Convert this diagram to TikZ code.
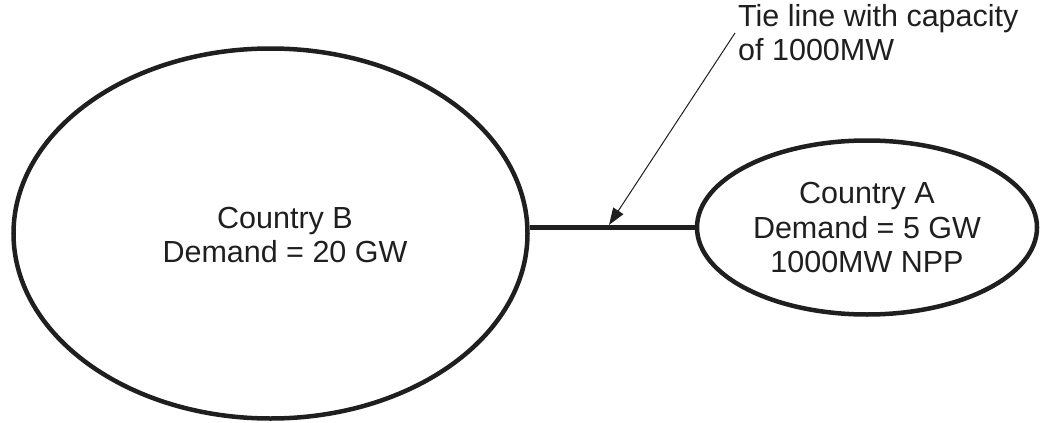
\documentclass[tikz,border=0pt]{standalone}
\usepackage{fontspec}
\setmainfont{Liberation Sans}
\usetikzlibrary{shapes.geometric,arrows.meta}
\begin{document}
\begin{tikzpicture}[x=1pt,y=-1pt,
  country/.style={ellipse,draw=black!88,line width=4.5pt,inner sep=0pt},
  lbl/.style={align=center,font=\fontsize{30.5}{34.5}\selectfont,text=black!88,inner sep=0pt},
  tie/.style={line width=4.5pt,draw=black!88},
  pointer/.style={line width=1pt,draw=black!88,-{Triangle[length=17pt,width=12pt]}}]
\useasboundingbox (0,0) rectangle (1042,423);
\node[country,minimum width=514pt,minimum height=370pt] (B) at (270.5,233.5) {};
\node[lbl] (Btext) at (285,235) {Country B\\Demand = 20 GW};
\node[country,minimum width=340pt,minimum height=174pt,lbl,line width=4.5pt] (A) at (867,227.5) {Country A\\Demand = 5 GW\\1000MW NPP};
\draw[tie] (A.west) -- (A.west -| B.east);
\node[lbl,align=left,anchor=north west] (T) at (738,4) {Tie line with capacity\\of 1000MW};
\coordinate (tstart) at (735,33);
\coordinate (tip) at (609,225);
\draw[pointer] (tstart) -- (tip);
\end{tikzpicture}
\end{document}
